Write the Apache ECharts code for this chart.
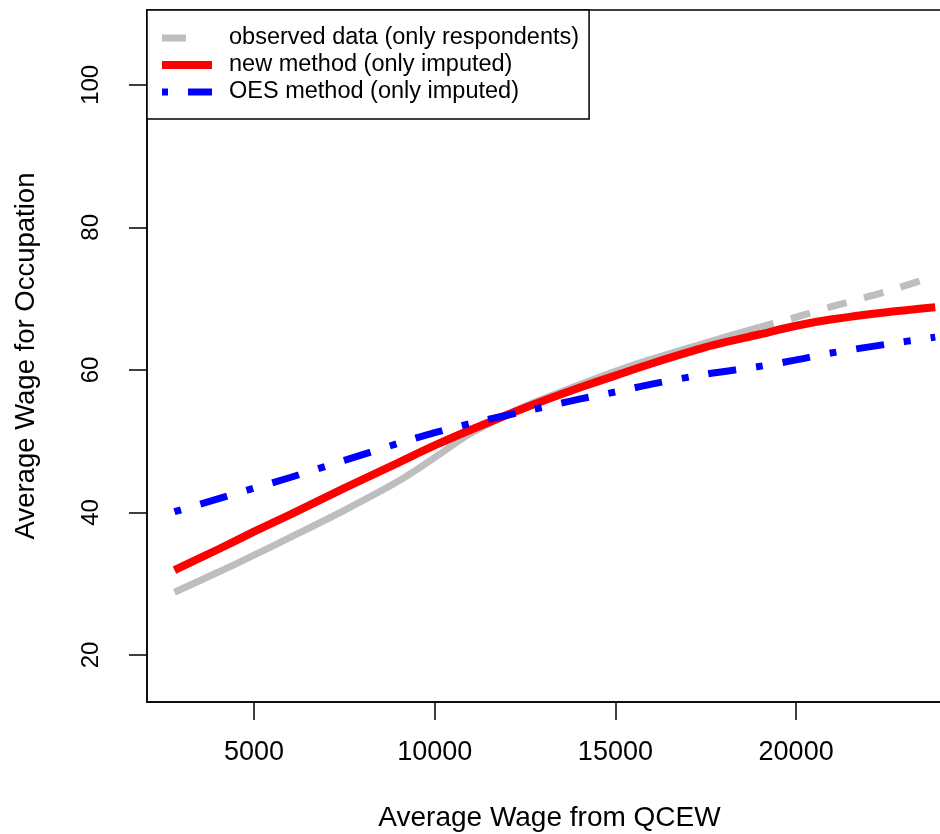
<!DOCTYPE html>
<html>
<head>
<meta charset="utf-8">
<script src="https://cdn.jsdelivr.net/npm/echarts@6/dist/echarts.min.js"></script>
<style>
  html, body { margin: 0; padding: 0; background: #fff; }
  #chart { width: 940px; height: 834px; }
</style>
</head>
<body>
<div id="chart"></div>
<script>
// average wage from QCEW (x)
const wageX = [2800, 4000, 5000, 6000, 7500, 9000, 10000, 11000, 12500, 14000, 15000, 16000, 17500, 19000, 20000, 21000, 22500, 23850]
// observed data (only respondents)
const observed = [28.8, 31.6, 34.0, 36.5, 40.3, 44.4, 47.7, 51.1, 54.9, 57.9, 59.8, 61.5, 63.8, 66.0, 67.4, 68.9, 71.0, 73.2]
// new method (only imputed)
const newMethod = [31.9, 34.8, 37.3, 39.7, 43.4, 47.0, 49.4, 51.6, 54.7, 57.5, 59.2, 60.9, 63.2, 65.0, 66.2, 67.1, 68.1, 68.8]
// OES method (only imputed)
const oesMethod = [40.1, 41.9, 43.4, 44.9, 47.3, 49.7, 51.2, 52.5, 54.2, 55.9, 56.9, 58.0, 59.4, 60.5, 61.4, 62.4, 63.6, 64.6]

const xTicks = [5000, 10000, 15000, 20000]
const yTicks = [20, 40, 60, 80, 100]

const legendNames = ['observed data (only respondents)', 'new method (only imputed)', 'OES method (only imputed)']

// the observed curve is dense (looks solid) on the left, dashed at the top end
const observedSplit = 19000

const FONT = '"Liberation Sans", Arial, sans-serif'

const pairs = (ys) => wageX.map((x, i) => [x, ys[i]])

const chart = echarts.init(document.getElementById('chart'))
chart.setOption({
  animation: false,
  textStyle: { fontFamily: FONT },
  grid: {
    left: 147,
    top: 10,
    height: 692,
    width: 819,
    outerBoundsMode: 'none',
    containLabel: false,
    show: true,
    borderColor: '#000',
    borderWidth: 1.5,
    backgroundColor: 'transparent'
  },
  legend: {
    left: 147,
    top: 10,
    orient: 'vertical',
    borderColor: '#000',
    borderWidth: 1.5,
    backgroundColor: '#fff',
    padding: [16, 10, 15, 11],
    itemWidth: 50,
    itemHeight: 14,
    itemGap: 3,
    selectedMode: false,
    textStyle: { fontFamily: FONT, fontSize: 23.5, color: '#000', padding: [0, 0, 0, 12] },
    data: [
      { name: legendNames[0], itemStyle: { opacity: 0 }, lineStyle: { color: '#bebebe', width: 7, type: [24, 30], cap: 'butt' } },
      { name: legendNames[1], itemStyle: { opacity: 0 }, lineStyle: { color: '#ff0000', width: 8, type: 'solid', cap: 'butt' } },
      { name: legendNames[2], itemStyle: { opacity: 0 }, lineStyle: { color: '#0000ff', width: 7, type: [6, 20, 28, 20], cap: 'butt' } }
    ]
  },
  xAxis: {
    type: 'value',
    min: 2040,
    max: 24700,
    name: 'Average Wage from QCEW',
    nameLocation: 'middle',
    nameGap: 102,
    nameTextStyle: { fontFamily: FONT, fontSize: 28, color: '#000', padding: [0, 14, 0, 0] },
    axisLine: { show: true, lineStyle: { color: '#000', width: 1.5 } },
    axisTick: { show: true, length: 18, customValues: xTicks, lineStyle: { color: '#000', width: 1.5 } },
    axisLabel: { customValues: xTicks, margin: 37, fontFamily: FONT, fontSize: 27, color: '#000', formatter: (v) => String(v) },
    splitLine: { show: false }
  },
  yAxis: {
    type: 'value',
    min: 13.4,
    max: 110.5,
    name: 'Average Wage for Occupation',
    nameLocation: 'middle',
    nameGap: 107,
    nameTextStyle: { fontFamily: FONT, fontSize: 27.5, color: '#000' },
    axisLine: { show: true, lineStyle: { color: '#000', width: 1.5 } },
    axisTick: { show: true, length: 18, customValues: yTicks, lineStyle: { color: '#000', width: 1.5 } },
    axisLabel: { customValues: yTicks, rotate: 90, margin: 44, fontFamily: FONT, fontSize: 24, color: '#000', formatter: (v) => String(v) },
    splitLine: { show: false }
  },
  series: [
    {
      name: legendNames[0],
      type: 'line',
      data: pairs(observed).filter(p => p[0] <= observedSplit),
      smooth: 0.3,
      symbol: 'none',
      lineStyle: { color: '#bebebe', width: 7, cap: 'butt' },
      itemStyle: { color: '#bebebe' }
    },
    {
      name: 'observed tail',
      type: 'line',
      data: pairs(observed).filter(p => p[0] >= observedSplit),
      smooth: 0.3,
      symbol: 'none',
      lineStyle: { color: '#bebebe', width: 7, type: [20, 18], dashOffset: 6, cap: 'butt' },
      itemStyle: { color: '#bebebe' }
    },
    {
      name: legendNames[1],
      type: 'line',
      data: pairs(newMethod),
      smooth: 0.3,
      symbol: 'none',
      lineStyle: { color: '#ff0000', width: 8, cap: 'butt' },
      itemStyle: { color: '#ff0000' }
    },
    {
      name: legendNames[2],
      type: 'line',
      data: pairs(oesMethod),
      smooth: 0.3,
      symbol: 'none',
      lineStyle: { color: '#0000ff', width: 7, type: [7, 20, 28, 20], cap: 'butt' },
      itemStyle: { color: '#0000ff' }
    }
  ]
})
</script>
</body>
</html>
